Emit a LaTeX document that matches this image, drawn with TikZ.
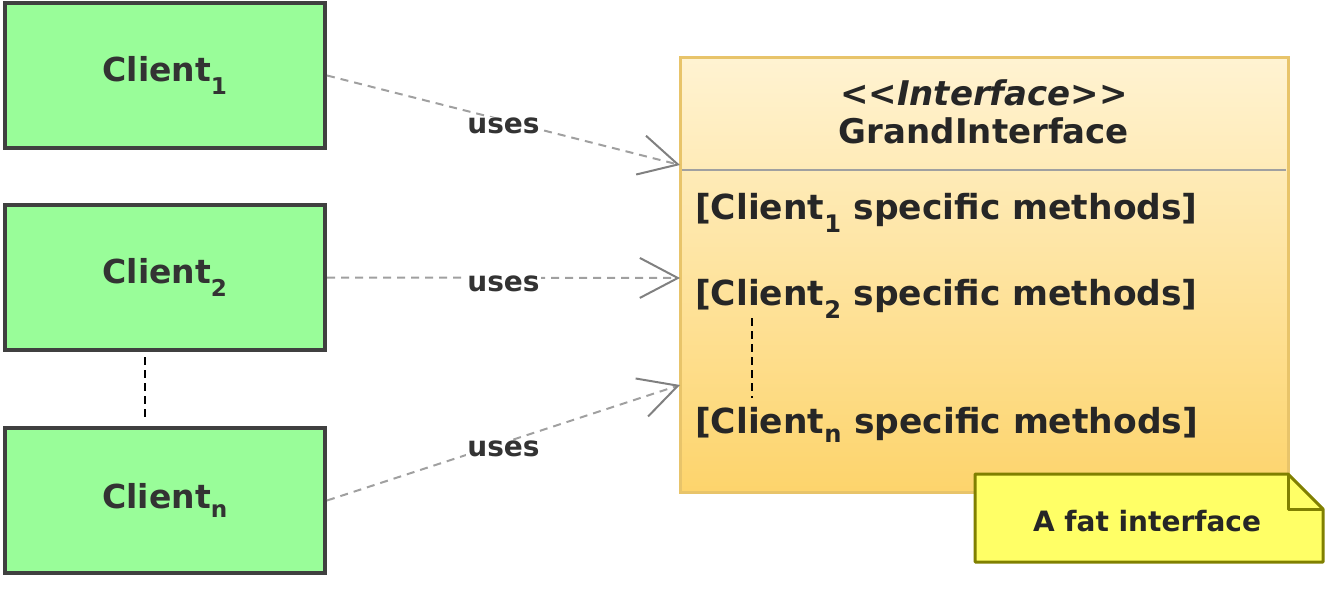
\documentclass[tikz,border=0pt]{standalone}
\usepackage{fontspec}
\setmainfont{DejaVu Sans}
\usetikzlibrary{arrows.meta,shapes}
\definecolor{clientgreen}{RGB}{153,253,153}
\definecolor{boxgray}{RGB}{64,64,64}
\definecolor{ifacetop}{RGB}{255,243,210}
\definecolor{ifacebottom}{RGB}{253,212,108}
\definecolor{ifaceborder}{RGB}{232,196,106}
\definecolor{notefill}{RGB}{255,255,102}
\definecolor{noteborder}{RGB}{128,128,0}
\definecolor{linkgray}{RGB}{160,160,160}
\newcommand\ix[1]{\raisebox{-0.12em}{\textsubscript{#1}}}

\begin{document}
\begin{tikzpicture}[x=1pt,y=1pt,
    client/.style={draw=boxgray, line width=4pt, fill=clientgreen,
      minimum width=320, minimum height=145,
      font=\fontsize{33}{38}\selectfont\bfseries, text=boxgray!80!black},
    iface/.style={draw=ifaceborder, line width=3pt, top color=ifacetop,
      bottom color=ifacebottom, minimum width=608, minimum height=435},
    method/.style={anchor=west, inner sep=0pt,
      font=\fontsize{34.5}{40}\selectfont\bfseries, text=black!85},
    uses/.style={draw=linkgray, line width=2pt, dash pattern=on 8pt off 6pt,
      -{Straight Barb[length=38pt, width=40pt, line width=2pt, color=gray]}},
    useslabel/.style={fill=white, inner sep=1pt, yshift=-6pt,
      font=\fontsize{28}{32}\selectfont\bfseries, text=black!80},
    dotline/.style={draw=black, line width=2pt, dash pattern=on 8pt off 5pt}]
  \useasboundingbox (0,0) rectangle (1326,-616);

  \node[client] (client1) at (165,-75.5) {Client\ix{1}};
  \node[client] (client2) at (165,-277.5) {Client\ix{2}};
  \node[client] (clientn) at (165,-500.5) {Client\ix{n}};
  \draw[dotline] ([xshift=-20pt,yshift=-5pt]client2.south) -- ([xshift=-20pt,yshift=5pt]clientn.north);

  \node[iface] (grand) at (984,-274.5) {};
  \node[font=\fontsize{34}{40}\selectfont\bfseries\itshape, text=black!85] (stereo) at (984,-93) {{<}{<}Interface{>}{>}};
  \node[font=\fontsize{34}{40}\selectfont\bfseries, text=black!85] (gname) at (984,-131) {GrandInterface};
  \draw[linkgray, line width=2pt] (682,-170) -- (1286,-170);
  \node[method] (m1) at (695,-213) {[Client\ix{1} specific methods]};
  \node[method] (m2) at (695,-299) {[Client\ix{2} specific methods]};
  \node[method] (mn) at (695,-425) {[Client\ix{n} specific methods]};
  \draw[dotline] (752,-318) -- (752,-398);

  \coordinate (in1) at (680,-165);
  \coordinate (in2) at (680,-278);
  \coordinate (inn) at (680,-385);
  \draw[uses] (client1.east) -- node[useslabel]{uses} (in1);
  \draw[uses] (client2.east) -- node[useslabel]{uses} (in2);
  \draw[uses] (clientn.east) -- node[useslabel]{uses} (inn);

  \draw[fill=notefill, draw=noteborder, line width=3pt, line join=round]
    (975,-474) -- (1288,-474) -- (1323,-509) -- (1323,-562) -- (975,-562) -- cycle;
  \draw[noteborder, line width=3pt, line join=round] (1288,-474) -- (1288,-509) -- (1323,-509);
  \node[font=\fontsize{28}{32}\selectfont\bfseries, text=black!85] (note) at (1147,-521) {A fat interface};
\end{tikzpicture}
\end{document}
